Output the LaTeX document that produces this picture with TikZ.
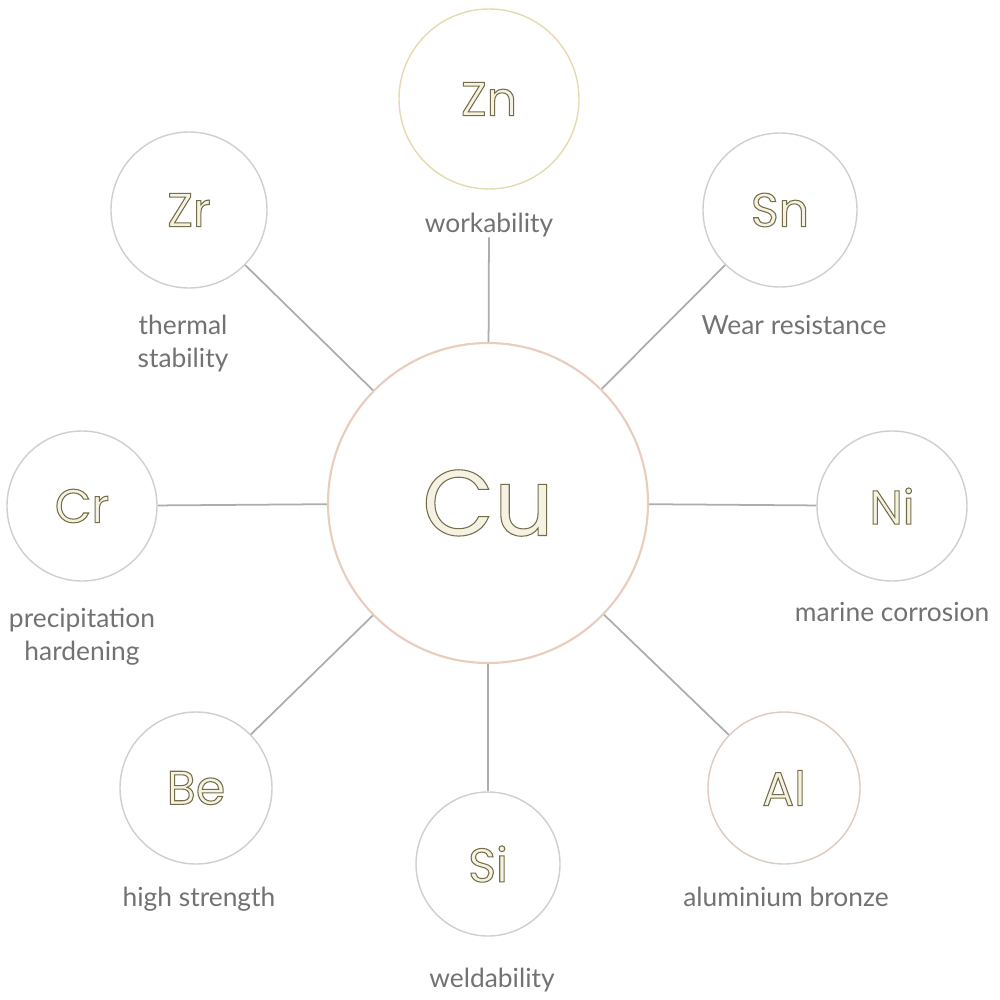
\documentclass[tikz,border=0pt]{standalone}
\usepackage{fontspec}
\setmainfont{Lato}
\newfontfamily\elemfont{Poppins}
\usetikzlibrary{positioning}
\definecolor{ringgray}{HTML}{CFCFCF}
\definecolor{ringgold}{HTML}{E6DAB0}
\definecolor{ringcopper}{HTML}{E8CDBE}
\definecolor{ringpeach}{HTML}{DCCBC0}
\definecolor{linkgray}{HTML}{ADADAD}
\definecolor{labelgray}{HTML}{727272}
\definecolor{symcolor}{HTML}{8A845A}
% hollow letters: cream inside, olive outline
\newcommand{\sym}[1]{\special{pdf:literal direct 2 Tr 0.6 w 0.45 0.43 0.28 RG 0.96 0.95 0.89 rg}#1\special{pdf:literal direct 0 Tr}}

\begin{document}
\begin{tikzpicture}[x=0.2mm,y=-0.2mm,
		elem/.style={circle, draw=ringgray, line width=0.8pt, fill=white, inner sep=0pt, text=symcolor, font=\elemfont\fontsize{27}{27}\selectfont},
		prop/.style={inner sep=0pt, text=labelgray, font=\fontsize{15}{19}\selectfont, align=center},
		link/.style={draw=linkgray, line width=1pt}]
		\useasboundingbox (0,0) rectangle (1000,1000);
		% the centre
		\node[elem, draw=ringcopper, line width=1.2pt, minimum size=64mm, font=\elemfont\fontsize{53}{53}\selectfont] (Cu) at (488,503) {\sym{Cu}};
		% alloying elements
		\node[elem, draw=ringgold, minimum size=36mm] (Zn) at (489,99) {\sym{Zn}};
		\node[elem, minimum size=31.2mm] (Zr) at (189,210) {\sym{Zr}};
		\node[elem, minimum size=30.8mm] (Sn) at (780,210) {\sym{Sn}};
		\node[elem, minimum size=30mm] (Cr) at (82,506) {\sym{Cr}};
		\node[elem, minimum size=30mm] (Ni) at (892,506) {\sym{Ni}};
		\node[elem, minimum size=30.4mm] (Be) at (196,788) {\sym{Be}};
		\node[elem, draw=ringpeach, minimum size=30.4mm] (Al) at (784,788) {\sym{Al}};
		\node[elem, minimum size=28.8mm] (Si) at (488,864) {\sym{Si}};
		% properties
		\node[prop, below=4.6mm of Zn] (workability) {workability};
		\node[prop, below=5.2mm of Zr, xshift=-1.2mm] (thermal) {thermal\\stability};
		\node[prop, below=5.4mm of Sn, xshift=2.8mm] (wear) {Wear resistance};
		\node[prop, below=5.2mm of Cr] (precip) {precipitation\\hardening};
		\node[prop, below=4mm of Ni] (marine) {marine corrosion};
		\node[prop, below=4.4mm of Be, xshift=0.6mm] (strength) {high strength};
		\node[prop, below=4.4mm of Al, xshift=0.4mm] (bronze) {aluminium bronze};
		\node[prop, below=6.2mm of Si, xshift=0.8mm] (weld) {weldability};
		% spokes
		\draw[link] (workability) -- (Cu);
		\draw[link] (Zr) -- (Cu);
		\draw[link] (Sn) -- (Cu);
		\draw[link] (Cr) -- (Cu);
		\draw[link] (Ni) -- (Cu);
		\draw[link] (Be) -- (Cu);
		\draw[link] (Al) -- (Cu);
		\draw[link] (Si) -- (Cu);
	\end{tikzpicture}
\end{document}
